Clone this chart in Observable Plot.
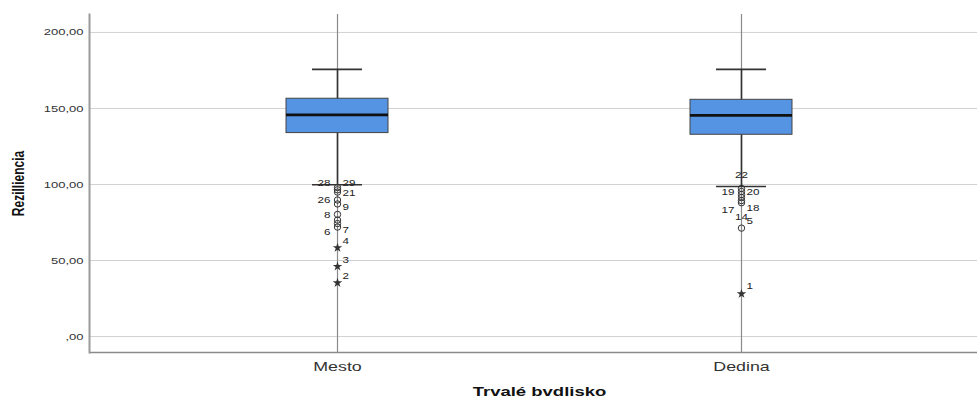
<!DOCTYPE html>
<html><head><meta charset="utf-8">
<script src="https://cdn.jsdelivr.net/npm/d3@7"></script>
<script src="https://cdn.jsdelivr.net/npm/@observablehq/plot@0.6"></script>
<style>body{margin:0;background:#fff} svg{display:block}</style>
</head><body><div id="chart"></div>
<script>
// ---- data ----
const categories = ["Mesto", "Dedina"];
const q1 = [133.8, 132.7];
const median = [145.8, 145.5];
const q3 = [156.4, 155.7];
const whiskerLow = [99.8, 98.7];
const whiskerHigh = [175.7, 175.7];

const mestoOutliers = [98, 96.5, 95, 89.8, 87.2, 80.3, 76.6, 74.3, 72];
const dedinaOutliers = [97.4, 95.4, 93.4, 91.4, 89.4, 88, 71.3];
const mestoExtremes = [58.4, 46.1, 35.3];
const dedinaExtremes = [28.1];

const labelCat   = ["Mesto","Mesto","Mesto","Mesto","Mesto","Mesto","Mesto","Mesto","Mesto","Mesto","Mesto",
                    "Dedina","Dedina","Dedina","Dedina","Dedina","Dedina","Dedina","Dedina"];
const labelText  = ["28","29","21","26","9","8","7","6","4","3","2",
                    "22","19","20","17","18","14","5","1"];
const labelValue = [100.7,100.7,94.1,89.5,84.9,79.9,69.9,68.4,62.5,50.2,39.7,
                    105.9,94.7,94.7,82.9,84.2,78.3,75.7,32.9];
const labelSide  = ["L","R","R","L","R","L","R","L","R","R","R",
                    "C","L","R","L","R","C","R","R"];

const yTicks = [0, 50, 100, 150, 200];
const yDomain = [-10.5, 211.8];
const xTitle = "Trvalé bvdlisko";
const yTitle = "Rezilliencia";

// ---- tables ----
const boxes = categories.map((c, i) => ({cat: c, q1: q1[i], med: median[i], q3: q3[i], lo: whiskerLow[i], hi: whiskerHigh[i]}));
const outliers = [
  ...mestoOutliers.map(v => ({cat: "Mesto", v})),
  ...dedinaOutliers.map(v => ({cat: "Dedina", v}))
];
const extremes = [
  ...mestoExtremes.map(v => ({cat: "Mesto", v})),
  ...dedinaExtremes.map(v => ({cat: "Dedina", v}))
];
const labels = labelText.map((t, i) => ({cat: labelCat[i], t, v: labelValue[i], side: labelSide[i]}));
const fmt = v => v === 0 ? ",00" : v.toFixed(2).replace(".", ",");
const font = "'Liberation Sans', Arial, sans-serif";

const chart = Plot.plot({
  width: 977, height: 396,
  marginLeft: 89, marginRight: 0, marginTop: 14, marginBottom: 44,
  style: {fontFamily: font, fontSize: "9.5px", color: "#333", background: "#fff"},
  x: {type: "band", domain: categories, range: [95, 983], paddingInner: 0.7475, paddingOuter: 0.4728, align: 0.5, round: false},
  y: {domain: yDomain},
  marks: [
    Plot.ruleY(yTicks, {stroke: "#d2d2d2", strokeWidth: 1}),
    Plot.ruleX(categories, {x: d => d, stroke: "#8a8a8a", strokeWidth: 1.2}),
    Plot.ruleX(boxes, {x: "cat", y1: "lo", y2: "hi", stroke: "#333", strokeWidth: 1.6}),
    Plot.tickY(boxes, {x: "cat", y: "lo", stroke: "#333", strokeWidth: 1.6, insetLeft: 26, insetRight: 26}),
    Plot.tickY(boxes, {x: "cat", y: "hi", stroke: "#333", strokeWidth: 1.6, insetLeft: 26, insetRight: 26}),
    Plot.barY(boxes, {x: "cat", y1: "q1", y2: "q3", fill: "#5593e3", stroke: "#444", strokeWidth: 1}),
    Plot.tickY(boxes, {x: "cat", y: "med", stroke: "#111", strokeWidth: 2.7}),
    Plot.dot(outliers, {x: "cat", y: "v", r: 3.2, stroke: "#333", strokeWidth: 1, fill: "none"}),
    Plot.dot(extremes, {x: "cat", y: "v", symbol: "star", r: 3, fill: "#333", stroke: "none"}),
    Plot.text(labels.filter(d => d.side === "L"), {x: "cat", y: "v", text: "t", textAnchor: "end", dx: -7, fontSize: 8.5, fill: "#222"}),
    Plot.text(labels.filter(d => d.side === "R"), {x: "cat", y: "v", text: "t", textAnchor: "start", dx: 5, fontSize: 8.5, fill: "#222"}),
    Plot.text(labels.filter(d => d.side === "C"), {x: "cat", y: "v", text: "t", textAnchor: "middle", dx: 0, fontSize: 8.5, fill: "#222"}),
    Plot.ruleY([yDomain[0]], {stroke: "#8a8a8a", strokeWidth: 1.5}),
    Plot.frame({anchor: "left", stroke: "#9a9a9a", strokeWidth: 2}),
    Plot.axisY({ticks: yTicks, tickFormat: fmt, tickSize: 0, tickPadding: 6, label: null, fontSize: 9.5}),
    Plot.axisX({tickSize: 0, tickPadding: 9, label: null, fontSize: 13}),
    Plot.text([yTitle], {frameAnchor: "left", textAnchor: "middle", lineAnchor: "middle", rotate: -90, dx: -71, dy: 0, text: d => d, fontWeight: "bold", fontSize: 12, fill: "#111"}),
    Plot.text([xTitle], {frameAnchor: "bottom", dx: 6, dy: 43, text: d => d, fontWeight: "bold", fontSize: 13.5, fill: "#111"})
  ]
});
document.getElementById("chart").appendChild(chart);

// horizontal stretch of all text, as in the reference picture
const S = 1.37;
chart.querySelectorAll("text").forEach(t => {
  const x = parseFloat(t.getAttribute("x")) || 0;
  const tr = t.getAttribute("transform") || "";
  let ax = x;
  const list = t.transform.baseVal;
  if (list.numberOfItems > 0) {
    const M = list.consolidate().matrix;
    ax = M.a * x + M.e;
  }
  if (!isFinite(ax)) return;
  t.setAttribute("transform", `translate(${ax},0) scale(${S},1) translate(${-ax},0) ${tr}`);
});
</script>
</body></html>
